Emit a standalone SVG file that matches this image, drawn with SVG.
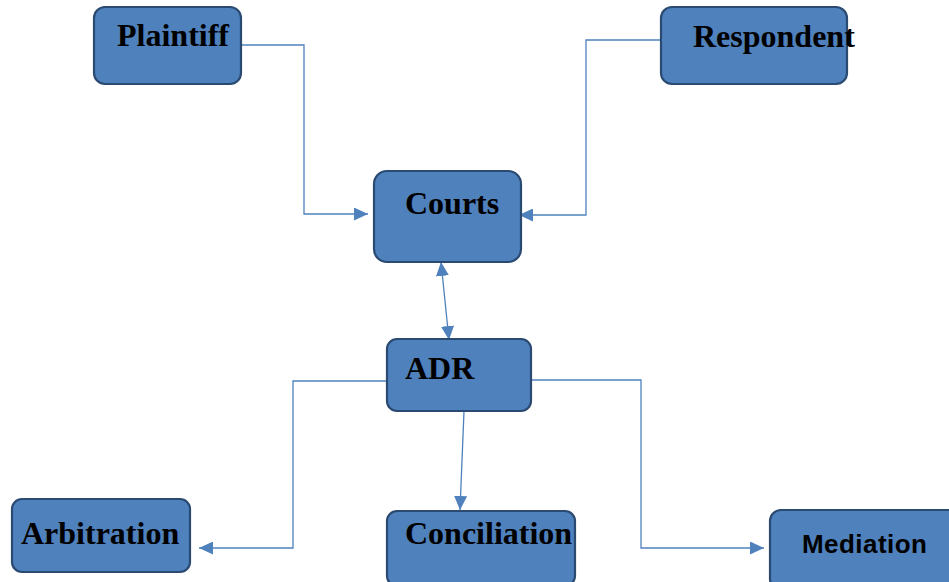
<svg xmlns="http://www.w3.org/2000/svg" width="949" height="582" viewBox="0 0 949 582">
<style>
.box{fill:#4F81BD;stroke:#2A4A72;stroke-width:2.2}
.t{font-family:"Liberation Serif","Times New Roman",serif;font-weight:bold;font-size:32px;fill:#000}
.s{font-family:"Liberation Sans",Arial,sans-serif;font-weight:bold;font-size:26px;fill:#000}
.c{fill:none;stroke:#4F81BD;stroke-width:1.3}
</style>
<defs>
<marker id="ah" viewBox="0 0 14 13" refX="14" refY="6.5" markerWidth="14" markerHeight="13" markerUnits="userSpaceOnUse" orient="auto-start-reverse">
<path d="M0,0 L14,6.5 L0,13 Z" fill="#4F81BD"/>
</marker>
</defs>
<rect width="949" height="582" fill="#fff"/>
<g id="connectors">
<polyline class="c" points="241,45 304,45 304,214 368,214" marker-end="url(#ah)"/>
<polyline class="c" points="661,40 586,40 586,215 519,215" marker-end="url(#ah)"/>
<line class="c" x1="441" y1="262" x2="449" y2="340" marker-start="url(#ah)" marker-end="url(#ah)"/>
<polyline class="c" points="387,381 293,381 293,548 199,548" marker-end="url(#ah)"/>
<polyline class="c" points="531,380 641,380 641,548 764,548" marker-end="url(#ah)"/>
<line class="c" x1="464" y1="411" x2="460" y2="510" marker-end="url(#ah)"/>
</g>
<g id="plaintiff"><rect class="box" x="94" y="7" width="147" height="77" rx="11"/><text class="t" x="117" y="46">Plaintiff</text></g>
<g id="respondent"><rect class="box" x="661" y="7" width="186" height="77" rx="11"/><text class="t" x="693" y="47">Respondent</text></g>
<g id="courts"><rect class="box" x="374" y="171" width="147" height="91" rx="13"/><text class="t" x="405" y="214">Courts</text></g>
<g id="adr"><rect class="box" x="387" y="339" width="144" height="72" rx="10"/><text class="t" x="405" y="379">ADR</text></g>
<g id="arbitration"><rect class="box" x="12" y="499" width="178" height="73" rx="10"/><text class="t" x="21" y="544">Arbitration</text></g>
<g id="conciliation"><rect class="box" x="387" y="511" width="188" height="75" rx="10"/><text class="t" x="405" y="544">Conciliation</text></g>
<g id="mediation"><rect class="box" x="770" y="510" width="190" height="80" rx="11"/><text class="s" x="802" y="553" textLength="125">Mediation</text></g>
</svg>
